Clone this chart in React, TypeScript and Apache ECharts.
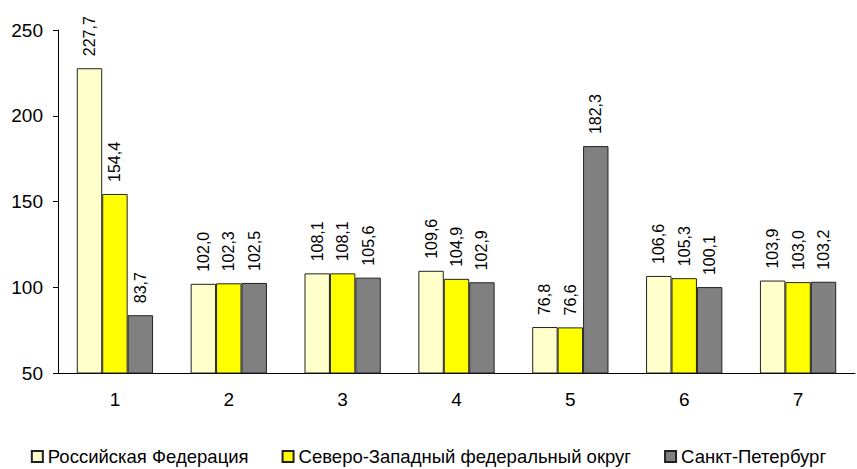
import React, { useEffect, useRef } from "react";
import * as echarts from "echarts";

const categories = ["1", "2", "3", "4", "5", "6", "7"];
const seriesNames = ["Российская Федерация", "Северо-Западный федеральный округ", "Санкт-Петербург"];
const rf = [227.7, 102.0, 108.1, 109.6, 76.8, 106.6, 103.9];
const szfo = [154.4, 102.3, 108.1, 104.9, 76.6, 105.3, 103.0];
const spb = [83.7, 102.5, 105.6, 102.9, 182.3, 100.1, 103.2];
const colors = ["#FFFFCC", "#FFFF00", "#808080"];

export default function App() {
  const ref = useRef<HTMLDivElement>(null);
  useEffect(() => {
    document.body.style.margin = "0";
    const chart = echarts.init(ref.current!, null, { renderer: "svg" });
    const font = "Arial, 'Liberation Sans', sans-serif";
    const data = [rf, szfo, spb];
    chart.setOption({
      animation: false,
      textStyle: { fontFamily: font },
      grid: { left: 58, right: 2, top: 30, bottom: 96, containLabel: false },
      legend: {
        top: 447,
        left: "center",
        padding: 0,
        itemWidth: 11,
        itemHeight: 11,
        itemGap: 33,
        icon: "rect",
        textStyle: { fontSize: 18.5, color: "#000", fontFamily: font },
        data: seriesNames,
      },
      xAxis: {
        type: "category",
        data: categories,
        axisLine: { lineStyle: { color: "#000", width: 1 } },
        axisTick: { alignWithLabel: false, length: 5, lineStyle: { color: "#000" } },
        axisLabel: { fontSize: 19, color: "#000", margin: 17 },
      },
      yAxis: {
        type: "value",
        min: 50,
        max: 250,
        interval: 50,
        axisLine: { show: true, lineStyle: { color: "#000", width: 1 } },
        axisTick: { show: true, length: 5, lineStyle: { color: "#000" } },
        axisLabel: { fontSize: 19, color: "#000", margin: 15 },
        splitLine: { show: false },
      },
      series: data.map((d, i) => ({
        name: seriesNames[i],
        type: "bar",
        data: d,
        barGap: "0%",
        barCategoryGap: "33%",
        itemStyle: { color: colors[i], borderColor: "#222", borderWidth: 1 },
        label: {
          show: true,
          position: "top",
          rotate: 90,
          align: "left",
          verticalAlign: "middle",
          distance: 12,
          fontSize: 16,
          color: "#000",
          formatter: (p: any) => p.value.toFixed(1).replace(".", ","),
        },
      })),
    });
    return () => chart.dispose();
  }, []);
  return <div ref={ref} style={{ width: 857, height: 469 }} />;
}
